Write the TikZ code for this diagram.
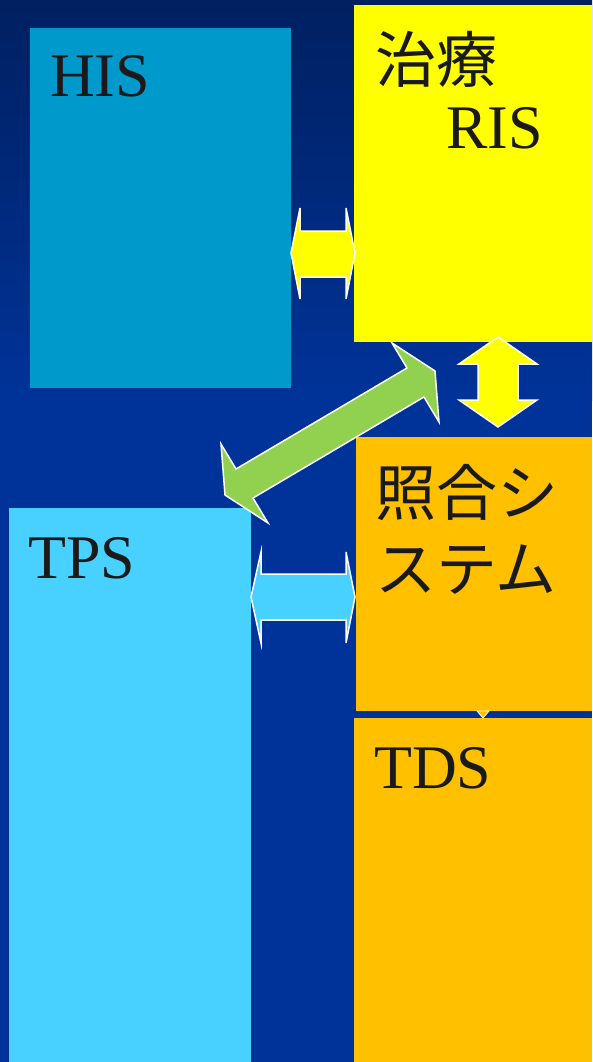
\documentclass[tikz,border=0pt]{standalone}
\usepackage{fontspec}
\setmainfont{Liberation Serif}
\newfontfamily\cjk{Noto Sans CJK JP}
\usetikzlibrary{positioning}

\definecolor{topnavy}{HTML}{002060}
\definecolor{bgblue}{HTML}{003399}
\definecolor{hisblue}{HTML}{0099CC}
\definecolor{tpsblue}{HTML}{48D1FF}
\definecolor{risyellow}{HTML}{FFFF00}
\definecolor{tdsorange}{HTML}{FFC000}
\definecolor{linkgreen}{HTML}{92D050}
\definecolor{ink}{HTML}{1A1A1A}

\begin{document}
\begin{tikzpicture}[
        x=1pt, y=-1pt,
        box/.style={rectangle, inner sep=0pt, anchor=north west},
        txt/.style={anchor=base west, inner sep=0pt, text=ink, font=\fontsize{62}{72}\selectfont},
        cjktxt/.style={anchor=base west, inner sep=0pt, text=ink, align=left, font=\cjk\fontsize{61}{76}\selectfont},
        blockarrow/.style={draw=white, line width=1.5pt, line join=miter}
    ]
        \useasboundingbox (0,0) rectangle (592,1062);
        % background
        \fill[bgblue] (0,0) rectangle (592,1062);
        \shade[top color=topnavy, bottom color=bgblue] (0,0) rectangle (592,400);
        % boxes
        \node[box, fill=hisblue, minimum width=261, minimum height=360] (his) at (30,28) {};
        \node[box, fill=risyellow, minimum width=238, minimum height=337] (ris) at (354,5) {};
        \node[box, fill=tpsblue, minimum width=242, minimum height=554] (tps) at (9,508) {};
        \node[box, fill=tdsorange, minimum width=236, minimum height=274] (verify) at (356,437) {};
        \node[box, fill=tdsorange, minimum width=238, minimum height=344] (tds) at (354,718) {};
        % texts
        \node[txt] (histxt) at (50,97) {HIS};
        \node[cjktxt] (ristxt) at (375,83) {治療};
        \node[txt] (risname) at (446,149) {RIS};
        \node[txt] (tpstxt) at (28,578) {TPS};
        \node[cjktxt] (verifytxt) at (375,591) {照合シ\\ステム};
        \node[txt] (tdstxt) at (374,788) {TDS};
        % arrows
        \draw[blockarrow, fill=risyellow] (291,253) -- (300,208) -- (300,231) -- (346,231) -- (346,208)
            -- (355,253) -- (346,299) -- (346,277) -- (300,277) -- (300,299) -- cycle;
        \draw[blockarrow, fill=risyellow] (498,337) -- (537,364) -- (518,364) -- (518,400) -- (537,400)
            -- (498,427) -- (459,400) -- (478,400) -- (478,364) -- (459,364) -- cycle;
        \draw[blockarrow, fill=tpsblue] (251,597) -- (261,552) -- (261,574) -- (346,574) -- (346,552)
            -- (355,597) -- (346,643) -- (346,620) -- (261,620) -- (261,643) -- cycle;
        \draw[blockarrow, fill=linkgreen] (236,469) -- (221,444) -- (225,495) -- (268,523) -- (253,498)
            -- (424,397) -- (439,422) -- (435,371) -- (392,343) -- (407,368) -- cycle;
        \draw[blockarrow, fill=tdsorange, line width=0.8pt] (477,711) -- (489,711) -- (483,718) -- cycle;
    \end{tikzpicture}
\end{document}
